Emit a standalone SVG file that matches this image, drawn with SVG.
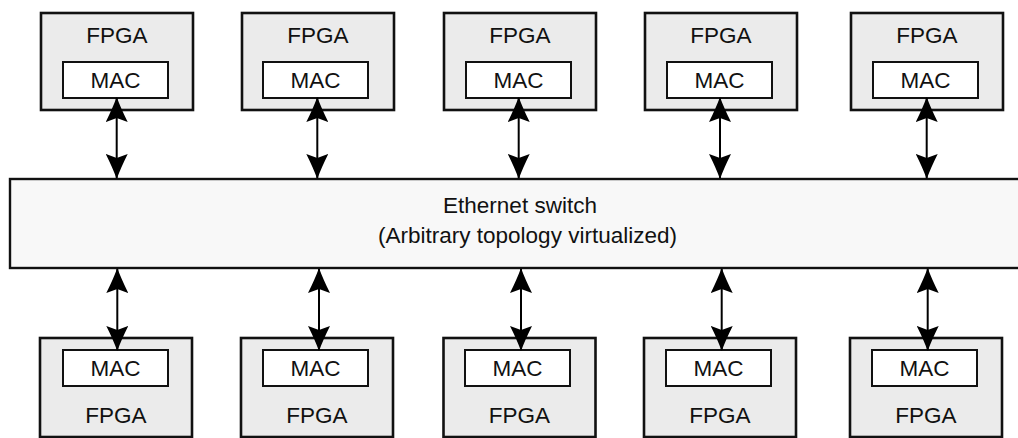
<svg xmlns="http://www.w3.org/2000/svg" width="1018" height="438" viewBox="0 0 1018 438">
  <style>
    .fpga { fill: #ebebeb; stroke: #111; stroke-width: 2.6; }
    .mac { fill: #ffffff; stroke: #111; stroke-width: 2; }
    .switch { fill: #f8f8f8; stroke: #111; stroke-width: 2.4; }
    .lbl { font-family: "Liberation Sans", Arial, sans-serif; font-size: 22.5px; fill: #111; text-anchor: middle; }
    .link { stroke: #000; stroke-width: 2; fill: none; marker-start: url(#head); marker-end: url(#head); }
  </style>
  <defs>
    <marker id="head" markerUnits="userSpaceOnUse" viewBox="0 0 25 22" refX="24" refY="11" markerWidth="25" markerHeight="22" orient="auto-start-reverse">
      <path d="M0,0 Q14,7 25,11 Q14,15 0,22 L4,11 Z" fill="#000"/>
    </marker>
  </defs>

  <!-- switch fabric -->
  <g id="switch">
    <rect class="switch" x="10" y="179" width="1030" height="89"/>
    <text class="lbl" x="520" y="212.5">Ethernet switch</text>
    <text class="lbl" x="527.5" y="242.5">(Arbitrary topology virtualized)</text>
  </g>

  <!-- upper row of FPGA boards -->
  <g id="fpga-t1">
    <rect class="fpga" x="41" y="13" width="152" height="97"/>
    <text class="lbl" x="117" y="42.7">FPGA</text>
    <rect class="mac" x="63" y="62" width="105" height="36"/>
    <text class="lbl" x="115.5" y="88">MAC</text>
  </g>
  <g id="fpga-t2">
    <rect class="fpga" x="242" y="13" width="152" height="97"/>
    <text class="lbl" x="318" y="42.7">FPGA</text>
    <rect class="mac" x="263" y="62" width="105" height="36"/>
    <text class="lbl" x="315.5" y="88">MAC</text>
  </g>
  <g id="fpga-t3">
    <rect class="fpga" x="444" y="13" width="152" height="97"/>
    <text class="lbl" x="520" y="42.7">FPGA</text>
    <rect class="mac" x="466" y="62" width="105" height="36"/>
    <text class="lbl" x="518.5" y="88">MAC</text>
  </g>
  <g id="fpga-t4">
    <rect class="fpga" x="645" y="13" width="152" height="97"/>
    <text class="lbl" x="721" y="42.7">FPGA</text>
    <rect class="mac" x="667" y="62" width="105" height="36"/>
    <text class="lbl" x="719.5" y="88">MAC</text>
  </g>
  <g id="fpga-t5">
    <rect class="fpga" x="851" y="13" width="152" height="97"/>
    <text class="lbl" x="927" y="42.7">FPGA</text>
    <rect class="mac" x="873" y="62" width="105" height="36"/>
    <text class="lbl" x="925.5" y="88">MAC</text>
  </g>

  <!-- lower row of FPGA boards -->
  <g id="fpga-b1">
    <rect class="fpga" x="40" y="338" width="152" height="99"/>
    <rect class="mac" x="63" y="350" width="105" height="36"/>
    <text class="lbl" x="115.5" y="376">MAC</text>
    <text class="lbl" x="116" y="423.3">FPGA</text>
  </g>
  <g id="fpga-b2">
    <rect class="fpga" x="241" y="338" width="152" height="99"/>
    <rect class="mac" x="263" y="350" width="105" height="36"/>
    <text class="lbl" x="315.5" y="376">MAC</text>
    <text class="lbl" x="317" y="423.3">FPGA</text>
  </g>
  <g id="fpga-b3">
    <rect class="fpga" x="443.5" y="338" width="152" height="99"/>
    <rect class="mac" x="465" y="350" width="105" height="36"/>
    <text class="lbl" x="517.5" y="376">MAC</text>
    <text class="lbl" x="519.5" y="423.3">FPGA</text>
  </g>
  <g id="fpga-b4">
    <rect class="fpga" x="644" y="338" width="152" height="99"/>
    <rect class="mac" x="666" y="350" width="105" height="36"/>
    <text class="lbl" x="718.5" y="376">MAC</text>
    <text class="lbl" x="720" y="423.3">FPGA</text>
  </g>
  <g id="fpga-b5">
    <rect class="fpga" x="850" y="338" width="152" height="99"/>
    <rect class="mac" x="872" y="350" width="105" height="36"/>
    <text class="lbl" x="924.5" y="376">MAC</text>
    <text class="lbl" x="926" y="423.3">FPGA</text>
  </g>

  <!-- bidirectional links between MACs and the switch -->
  <g id="links">
    <line class="link" x1="116.7" y1="98" x2="116.7" y2="178"/>
    <line class="link" x1="317.3" y1="98" x2="317.3" y2="178"/>
    <line class="link" x1="518.7" y1="98" x2="518.7" y2="178"/>
    <line class="link" x1="720" y1="98" x2="720" y2="178"/>
    <line class="link" x1="926.7" y1="98" x2="926.7" y2="178"/>
    <line class="link" x1="117.3" y1="269" x2="117.3" y2="350"/>
    <line class="link" x1="319" y1="269" x2="319" y2="350"/>
    <line class="link" x1="521" y1="269" x2="521" y2="350"/>
    <line class="link" x1="721.7" y1="269" x2="721.7" y2="350"/>
    <line class="link" x1="927.7" y1="269" x2="927.7" y2="350"/>
  </g>
</svg>
